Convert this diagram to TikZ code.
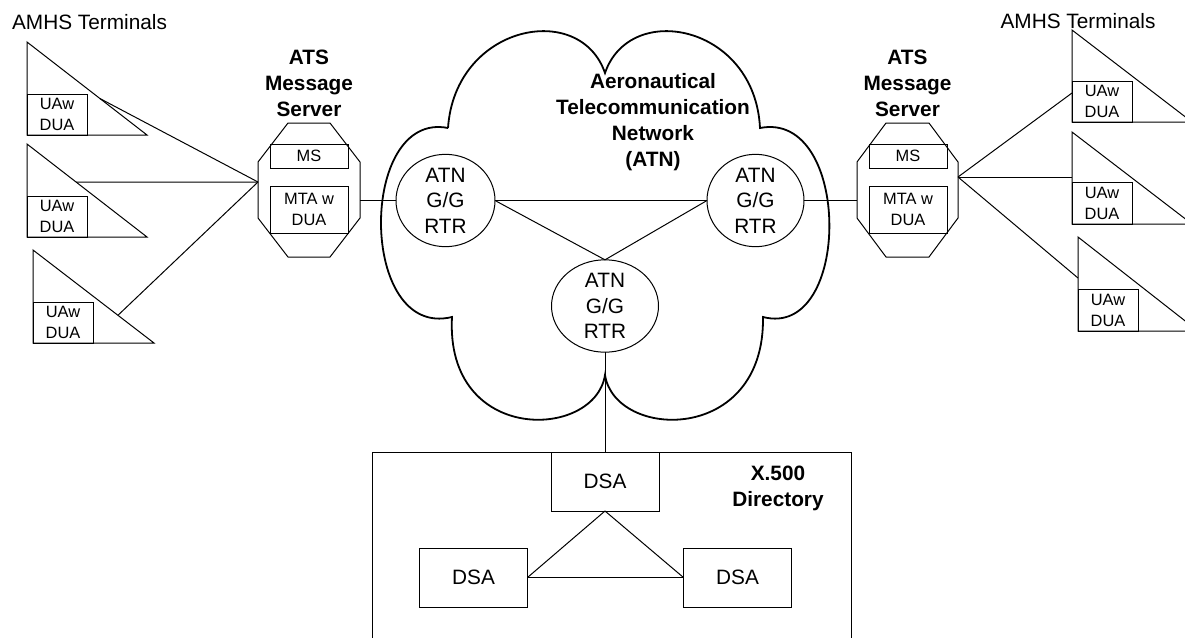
\documentclass[tikz,border=0pt]{standalone}
\usepackage{fontspec}
\setmainfont{Liberation Sans}
\usetikzlibrary{shapes.geometric,calc}
\begin{document}
\begin{tikzpicture}[x=0.5pt,y=-0.5pt,line width=0.5pt,line join=miter,
  lbl/.style={font=\fontsize{10.4}{12.8}\selectfont,align=center,inner sep=0pt},
  blbl/.style={font=\fontsize{10.4}{13}\selectfont\bfseries,align=center,inner sep=0pt},
  sbox/.style={draw,font=\fontsize{8.2}{10.5}\selectfont,align=center,inner sep=0pt,outer sep=0pt,minimum width=30pt},
  router/.style={draw,ellipse,font=\fontsize{10.4}{12.75}\selectfont,align=center,inner sep=0pt,outer sep=0pt},
  dsa/.style={draw,font=\fontsize{10.4}{12.8}\selectfont,inner sep=0pt,outer sep=0pt,minimum width=54pt,minimum height=29.5pt},
  link/.style={draw,line width=0.5pt},
  cloudline/.style={line width=0.9pt}]
\useasboundingbox (0,0) rectangle (1185,638);
\clip (0,0) rectangle (1185,638);

% ---------- labels ----------
\node[lbl] (amhsL) at (89.5,22) {AMHS Terminals};
\node[lbl] (amhsR) at (1078,21) {AMHS Terminals};
\node[blbl] (atsL) at (309,83) {ATS\\Message\\Server};
\node[blbl] (atsR) at (907.5,83) {ATS\\Message\\Server};

% ---------- left terminals ----------
\coordinate (t1a) at (27,42);  \coordinate (t1b) at (27,135);  \coordinate (t1c) at (147,135);
\coordinate (t2a) at (27,144); \coordinate (t2b) at (27,237);  \coordinate (t2c) at (147,237);
\coordinate (t3a) at (33,250); \coordinate (t3b) at (33,343);  \coordinate (t3c) at (154,343);
\draw (t1a) -- (t1b) -- (t1c) -- cycle;
\draw (t2a) -- (t2b) -- (t2c) -- cycle;
\draw (t3a) -- (t3b) -- (t3c) -- cycle;
\node[sbox,minimum height=20.5pt] (t1box) at (57,114.5) {UAw\\DUA};
\node[sbox,minimum height=20.5pt] (t2box) at (57,216.5) {UAw\\DUA};
\node[sbox,minimum height=20.5pt] (t3box) at (63,322.5) {UAw\\DUA};
\coordinate (t1h) at ($(t1a)!0.608!(t1c)$);
\coordinate (t2h) at ($(t2a)!0.409!(t2c)$);
\coordinate (t3h) at ($(t3a)!0.702!(t3c)$);

% ---------- left server ----------
\draw (288,123) -- (330,123) -- (360,162) -- (360,218) -- (330,257) -- (288,257) -- (258,218) -- (258,162) -- cycle;
\coordinate (lsL) at (258,182);
\coordinate (lsR) at (360,200.5);
\node[sbox,minimum width=39pt,minimum height=12pt] (lms) at (309,156) {MS};
\node[sbox,minimum width=39pt,minimum height=23.5pt] (lmta) at (309,209.5) {MTA w\\DUA};

% ---------- right server ----------
\draw (886,123) -- (929,123) -- (958,162) -- (958,218) -- (929,257) -- (886,257) -- (857,218) -- (857,162) -- cycle;
\coordinate (rsL) at (857,200.5);
\coordinate (rsR) at (958,177);
\node[sbox,minimum width=39pt,minimum height=12pt] (rms) at (908,156) {MS};
\node[sbox,minimum width=39pt,minimum height=23.5pt] (rmta) at (908,209.5) {MTA w\\DUA};

% ---------- right terminals ----------
\draw (1072,30) -- (1072,122) -- (1192,122) -- cycle;
\draw (1072,132) -- (1072,224) -- (1192,224) -- cycle;
\draw (1078,237) -- (1078,331) -- (1198,331) -- cycle;
\node[sbox,minimum height=20.5pt] (r1box) at (1102,101.5) {UAw\\DUA};
\node[sbox,minimum height=21pt] (r2box) at (1102,203) {UAw\\DUA};
\node[sbox,minimum height=21pt] (r3box) at (1108,310) {UAw\\DUA};
\coordinate (r1h) at (1072,93);
\coordinate (r2h) at (1072,177);
\coordinate (r3h) at (1078,278);

% ---------- cloud ----------
\draw[cloudline] (448,128) .. controls (455,25) and (580,0) .. (605,73)
  .. controls (630,0) and (755,25) .. (760,128)
  .. controls (852,110) and (852,340) .. (763,317)
  .. controls (765,445) and (615,440) .. (605,375)
  .. controls (595,440) and (445,445) .. (452,317)
  .. controls (358,340) and (358,110) .. (448,128);
\node[blbl] (atn) at (653,122.5) {Aeronautical\\Telecommunication\\Network\\(ATN)};

% ---------- routers ----------
\node[router,minimum width=49.5pt,minimum height=42pt] (e1) at (445.5,200.5) {ATN\\G/G\\RTR};
\node[router,minimum width=48.5pt,minimum height=40.5pt] (e2) at (755.5,200.5) {ATN\\G/G\\RTR};
\node[router,minimum width=53.5pt,minimum height=46pt] (e3) at (605,306) {ATN\\G/G\\RTR};

% ---------- directory ----------
\draw (372,645) -- (372,452) -- (851,452) -- (851,645);
\node[dsa] (d1) at (605,481.5) {DSA};
\node[dsa] (d2) at (473.5,577.5) {DSA};
\node[dsa] (d3) at (737.5,577.5) {DSA};
\node[blbl] (x500) at (778,488) {X.500\\Directory};

% ---------- connectors ----------
\draw[link] (lsL) -- (t1h);
\draw[link] (lsL) -- (t2h);
\draw[link] (lsL) -- (t3h);
\draw[link] (lsR) -- (e1.west);
\draw[link] (e1.east) -- (e2.west);
\draw[link] (e1.east) -- (e3.north);
\draw[link] (e2.west) -- (e3.north);
\draw[link] (e2.east) -- (rsL);
\draw[link] (rsR) -- (r1h);
\draw[link] (rsR) -- (r2h);
\draw[link] (rsR) -- (r3h);
\draw[link] (e3.south) -- (d1.north);
\draw[link] (d1.south) -- (d2.east);
\draw[link] (d1.south) -- (d3.west);
\draw[link] (d2.east) -- (d3.west);
\end{tikzpicture}
\end{document}
